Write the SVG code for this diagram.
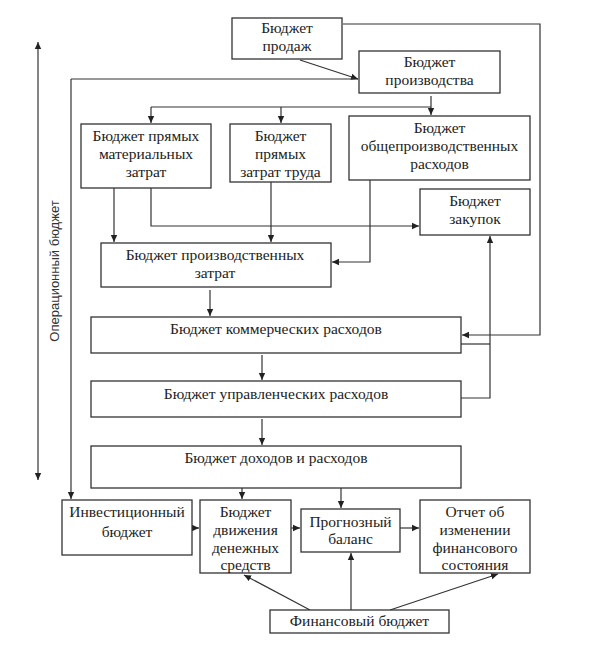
<svg xmlns="http://www.w3.org/2000/svg" width="591" height="649" viewBox="0 0 591 649">
<style>
.b{fill:#fff;stroke:#333;stroke-width:1.3}
.t{font-family:"Liberation Serif","Times New Roman","DejaVu Serif",serif;font-size:15.5px;fill:#222;text-anchor:middle}
.c{fill:none;stroke:#333;stroke-width:1.2}
.v{font-family:"Liberation Sans",Arial,sans-serif;font-size:13px;fill:#333;text-anchor:middle}
</style>
<defs>
<marker id="a" markerWidth="8" markerHeight="8" refX="7" refY="4" orient="auto" markerUnits="userSpaceOnUse">
<path d="M0,0.8 L7,4 L0,7.2 Z" fill="#222"/>
</marker>
<marker id="s" markerWidth="8" markerHeight="8" refX="1" refY="4" orient="auto" markerUnits="userSpaceOnUse">
<path d="M8,0.8 L1,4 L8,7.2 Z" fill="#222"/>
</marker>
</defs>
<rect width="591" height="649" fill="#fff"/>
<g id="connectors">
<path class="c" d="M38,42 V480" marker-start="url(#s)" marker-end="url(#a)"/>
<path class="c" d="M300,60 L358,79" marker-end="url(#a)"/>
<path class="c" d="M71,79 H358"/>
<path class="c" d="M71,79 V499" marker-end="url(#a)"/>
<path class="c" d="M343,24 H540 V335 H462" marker-end="url(#a)"/>
<path class="c" d="M431,96 V115" marker-end="url(#a)"/>
<path class="c" d="M151,107 V123" marker-end="url(#a)"/>
<path class="c" d="M151,107 H431"/>
<path class="c" d="M281,107 V123" marker-end="url(#a)"/>
<path class="c" d="M114,188 V242" marker-end="url(#a)"/>
<path class="c" d="M151,188 V226 H419" marker-end="url(#a)"/>
<path class="c" d="M271,182 V242" marker-end="url(#a)"/>
<path class="c" d="M370,180 V262 H332" marker-end="url(#a)"/>
<path class="c" d="M210,290 V316" marker-end="url(#a)"/>
<path class="c" d="M461,344 H490"/>
<path class="c" d="M461,398 H490 V236" marker-end="url(#a)"/>
<path class="c" d="M262,355 V380" marker-end="url(#a)"/>
<path class="c" d="M262,419 V445" marker-end="url(#a)"/>
<path class="c" d="M242,488 V499" marker-end="url(#a)"/>
<path class="c" d="M341,488 V508" marker-end="url(#a)"/>
<path class="c" d="M192,528 H199" marker-end="url(#a)"/>
<path class="c" d="M291,528 H300" marker-end="url(#a)"/>
<path class="c" d="M400,528 H419" marker-end="url(#a)"/>
<path class="c" d="M310,610 L244,575" marker-end="url(#a)"/>
<path class="c" d="M351,610 V553" marker-end="url(#a)"/>
<path class="c" d="M390,610 L498,574" marker-end="url(#a)"/>
</g>
<g id="label-operational">
<text class="v" transform="translate(59,271) rotate(-90)">Операционный бюджет</text>
</g>
<g id="n-sales">
<rect class="b" x="232" y="18" width="110" height="41"/>
<text class="t" x="287" y="33">Бюджет</text>
<text class="t" x="287" y="51">продаж</text>
</g>
<g id="n-production">
<rect class="b" x="359" y="51" width="141" height="42"/>
<text class="t" x="429.5" y="67">Бюджет</text>
<text class="t" x="429.5" y="85">производства</text>
</g>
<g id="n-materials">
<rect class="b" x="81" y="124" width="130" height="64"/>
<text class="t" x="146" y="141">Бюджет прямых</text>
<text class="t" x="146" y="159">материальных</text>
<text class="t" x="146" y="177">затрат</text>
</g>
<g id="n-labor">
<rect class="b" x="230" y="124" width="101" height="58"/>
<text class="t" x="280.5" y="141">Бюджет</text>
<text class="t" x="280.5" y="159">прямых</text>
<text class="t" x="280.5" y="177">затрат труда</text>
</g>
<g id="n-overhead">
<rect class="b" x="349" y="116" width="181" height="64"/>
<text class="t" x="439.5" y="133">Бюджет</text>
<text class="t" x="439.5" y="151">общепроизводственных</text>
<text class="t" x="439.5" y="169">расходов</text>
</g>
<g id="n-purchases">
<rect class="b" x="420" y="189" width="110" height="46"/>
<text class="t" x="475" y="206">Бюджет</text>
<text class="t" x="475" y="224">закупок</text>
</g>
<g id="n-prodcosts">
<rect class="b" x="101" y="243" width="230" height="44"/>
<text class="t" x="215" y="260">Бюджет производственных</text>
<text class="t" x="215" y="278">затрат</text>
</g>
<g id="n-commercial">
<rect class="b" x="91" y="317" width="370" height="36"/>
<text class="t" x="276" y="334">Бюджет коммерческих расходов</text>
</g>
<g id="n-management">
<rect class="b" x="91" y="381" width="370" height="36"/>
<text class="t" x="276" y="399">Бюджет управленческих расходов</text>
</g>
<g id="n-income">
<rect class="b" x="91" y="446" width="370" height="42"/>
<text class="t" x="276" y="463">Бюджет доходов и расходов</text>
</g>
<g id="n-invest">
<rect class="b" x="62" y="500" width="130" height="55"/>
<text class="t" x="127" y="517">Инвестиционный</text>
<text class="t" x="127" y="537">бюджет</text>
</g>
<g id="n-cash">
<rect class="b" x="200" y="500" width="91" height="73"/>
<text class="t" x="245.5" y="517">Бюджет</text>
<text class="t" x="245.5" y="535">движения</text>
<text class="t" x="245.5" y="553">денежных</text>
<text class="t" x="245.5" y="570">средств</text>
</g>
<g id="n-balance">
<rect class="b" x="301" y="509" width="99" height="43"/>
<text class="t" x="350.5" y="527">Прогнозный</text>
<text class="t" x="350.5" y="544">баланс</text>
</g>
<g id="n-report">
<rect class="b" x="420" y="500" width="110" height="73"/>
<text class="t" x="475" y="517">Отчет об</text>
<text class="t" x="475" y="535">изменении</text>
<text class="t" x="475" y="553">финансового</text>
<text class="t" x="475" y="570">состояния</text>
</g>
<g id="n-financial">
<rect class="b" x="270" y="610" width="179" height="23"/>
<text class="t" x="359.5" y="626">Финансовый бюджет</text>
</g>
</svg>
